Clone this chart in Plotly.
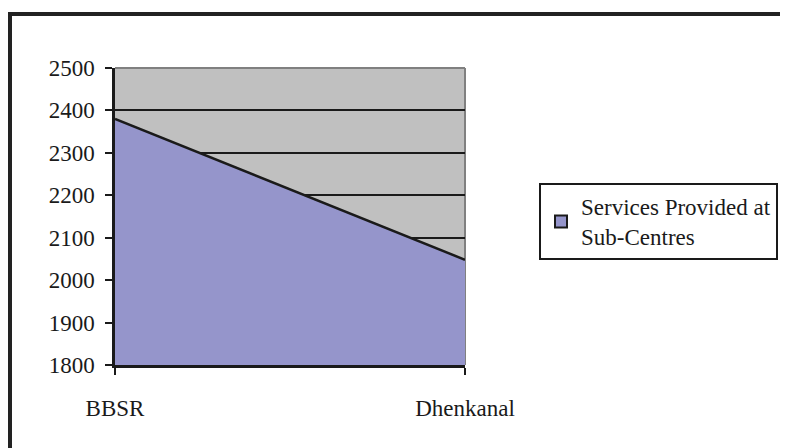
import plotly.graph_objects as go

categories = ["BBSR", "Dhenkanal"]
values = [2380, 2048]
series_name = "Services Provided at<br>Sub-Centres"
y_min, y_max, y_step = 1800, 2500, 100

FONT = "Liberation Serif, Times New Roman, serif"
FILL = "#9595CB"
INK = "#1a1a1a"

fig = go.Figure()
fig.add_trace(go.Scatter(
    x=categories, y=values, mode="lines", name=series_name,
    fill="tozeroy", fillcolor=FILL,
    line=dict(color=INK, width=2.5),
    showlegend=False,
))
# legend entry (square swatch like the original)
fig.add_trace(go.Bar(
    x=[None], y=[None], name=series_name,
    marker=dict(color=FILL, line=dict(color=INK, width=2)),
    showlegend=True,
))

# page has an 8px body margin, so the figure is laid out 8px up/left
OFF = 8
W, H = 788 - OFF, 448 - OFF
L, T = 115 - OFF, 68 - OFF
PR, PB = 465 - OFF, 365 - OFF
R, B = W - PR, H - PB
pw, ph = W - L - R, H - T - B

fig.update_layout(
    width=W, height=H,
    margin=dict(l=L, r=R, t=T, b=B, autoexpand=False),
    paper_bgcolor="white", plot_bgcolor="#C0C0C0",
    font=dict(family=FONT, size=23, color=INK),
    showlegend=True,
    legend=dict(
        x=(539 - OFF - L) / pw, y=(PB - (183 - OFF)) / ph,
        xanchor="left", yanchor="top",
        bordercolor=INK, borderwidth=2, bgcolor="white",
        font=dict(family=FONT, size=23, color=INK),
        itemwidth=30, tracegroupgap=0,
    ),
    xaxis=dict(
        type="category", range=[0, 1], showgrid=False, zeroline=False,
        showline=True, linecolor=INK, linewidth=2.5, automargin=False,
        ticks="outside", ticklen=7, tickwidth=1.5, tickcolor=INK,
        ticklabelstandoff=14,
    ),
    yaxis=dict(
        range=[y_min, y_max], dtick=y_step, tick0=y_min,
        showgrid=True, gridcolor=INK, gridwidth=1.5, zeroline=False,
        showline=True, linecolor=INK, linewidth=2.5, automargin=False,
        ticks="outside", ticklen=7, tickwidth=1.5, tickcolor=INK,
        ticklabelstandoff=6,
    ),
    shapes=[
        dict(type="line", xref="paper", yref="paper", x0=0, x1=1, y0=1, y1=1,
             line=dict(color="#808080", width=2), layer="below"),
        dict(type="line", xref="paper", yref="paper", x0=1, x1=1, y0=0, y1=1,
             line=dict(color="#808080", width=2), layer="below"),
        dict(type="rect", xref="paper", yref="paper",
             x0=(2 - L) / pw, x1=(W + 20 - L) / pw,
             y0=(PB - (H + 20)) / ph, y1=(PB - 6) / ph,
             line=dict(color="#222222", width=4), fillcolor="rgba(0,0,0,0)"),
    ],
)

fig.write_html("out.html")
